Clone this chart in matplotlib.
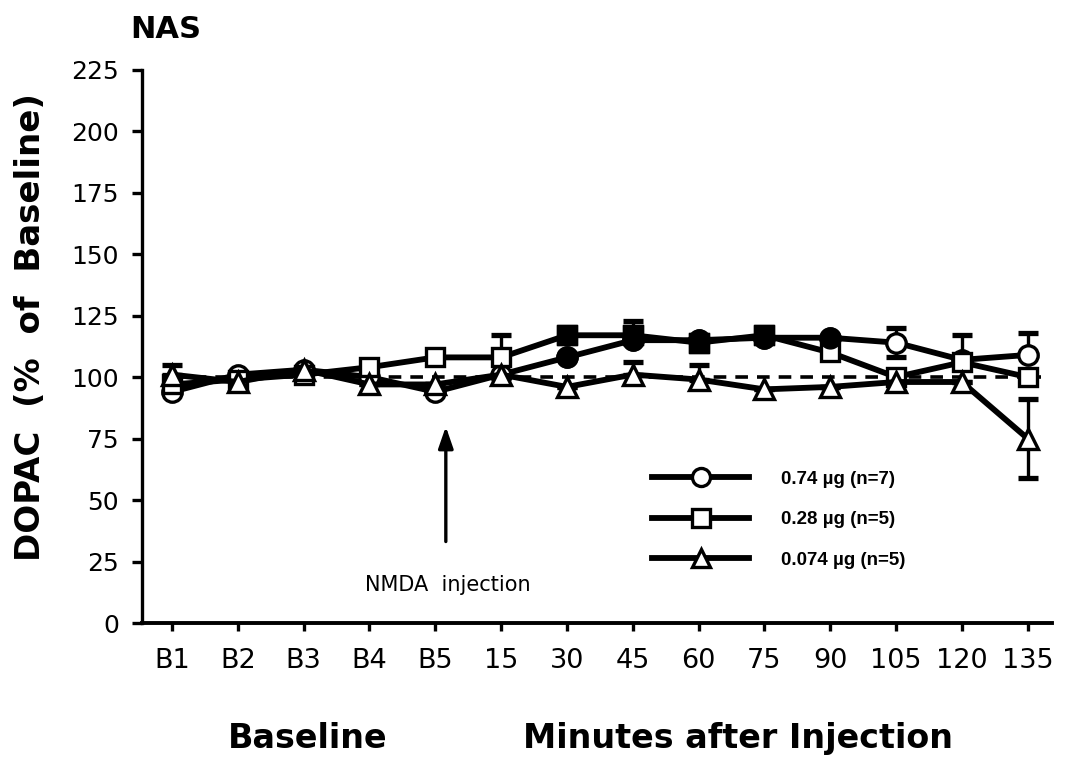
import numpy as np
import matplotlib
matplotlib.use("Agg")
import matplotlib.pyplot as plt
from matplotlib.lines import Line2D

plt.rcParams['font.family'] = ['DejaVu Sans']

# sampling points: five baseline samples, then minutes after NMDA injection
time_labels = ["B1", "B2", "B3", "B4", "B5", "15", "30", "45", "60", "75", "90", "105", "120", "135"]

# DOPAC in nucleus accumbens, % of baseline, per dose
dopac_074 = [94, 101, 103, 100, 94, 101, 108, 115, 115, 116, 116, 114, 107, 109]
dopac_028 = [97, 99, 101, 104, 108, 108, 117, 117, 114, 117, 110, 100, 106, 100]
dopac_0074 = [101, 98, 103, 97, 97, 101, 96, 101, 99, 95, 96, 98, 98, 75]

# SEM bars as printed (lower, upper); most lower halves are hidden under the lines
sem_074_lo = [0, 0, 0, 0, 0, 0, 0, 0, 0, 0, 0, 6, 0, 0]
sem_074_hi = [0, 0, 0, 0, 0, 0, 0, 8, 0, 0, 0, 6, 10, 9]
sem_028_lo = [0, 0, 0, 0, 0, 0, 0, 0, 0, 0, 0, 0, 0, 0]
sem_028_hi = [0, 0, 0, 0, 0, 9, 0, 0, 0, 0, 0, 0, 0, 0]
sem_0074_lo = [0, 0, 0, 0, 0, 0, 0, 0, 0, 0, 0, 0, 0, 16]
sem_0074_hi = [4, 0, 0, 0, 0, 0, 0, 5, 6, 0, 0, 0, 0, 16]

dose_labels = ["0.74 µg (n=7)", "0.28 µg (n=5)", "0.074 µg (n=5)"]

x = np.arange(len(time_labels))

fig = plt.figure(figsize=(10.66, 7.57), dpi=100)
ax = fig.add_axes([0.1332, 0.177, 0.8537, 0.731])

lw = 4.2
ms = 14
mew = 2.4

# baseline reference
ax.plot([x[0], x[-1] + 0.2], [100, 100], color="black", lw=2.6, ls=(0, (3.5, 2.5)), zorder=1)

series = [
    (dopac_074, [sem_074_lo, sem_074_hi], "o"),
    (dopac_028, [sem_028_lo, sem_028_hi], "s"),
    (dopac_0074, [sem_0074_lo, sem_0074_hi], "^"),
]
for vals, err, mk in series:
    ax.errorbar(x, vals, yerr=err, fmt="none", ecolor="black", elinewidth=2.4,
                capsize=7, capthick=3.8, zorder=2)
for vals, err, mk in series:
    ax.plot(x, vals, color="black", lw=lw, marker=mk, ms=ms if mk != "s" else ms - 1,
            mfc="white", mec="black", mew=mew, zorder=3)

# overlapping points in the 30-90 min window print as solid blobs
mid = slice(6, 11)
ax.plot(x[mid], np.array(dopac_074)[mid], ls="none", marker="o", ms=ms + 1,
        mfc="black", mec="black", zorder=4)
ax.plot(x[6:10], np.array(dopac_028)[6:10], ls="none", marker="s", ms=ms,
        mfc="black", mec="black", zorder=4)

ax.set_xlim(-0.456, 13.37)
ax.set_ylim(0, 225)
ax.set_yticks(np.arange(0, 226, 25))
ax.set_xticks(x)
ax.set_xticklabels(time_labels)
ax.spines["top"].set_visible(False)
ax.spines["right"].set_visible(False)
ax.spines["left"].set_linewidth(2.4)
ax.spines["bottom"].set_linewidth(2.8)
ax.tick_params(axis="y", direction="out", length=7.5, width=2.4, pad=9, labelsize=18)
ax.tick_params(axis="x", direction="out", length=6, width=2.4, pad=12, labelsize=19.5)

ax.set_ylabel("DOPAC  (%  of  Baseline)", fontsize=24.5, fontweight="bold")
ax.yaxis.set_label_coords(-0.104, 0.535)

# injection marker
ax.annotate("", xy=(4.16, 81), xytext=(4.16, 32),
            arrowprops=dict(arrowstyle="-|>,head_length=1.3,head_width=0.45",
                            color="black", lw=2.4))
ax.text(4.19, 15.4, "NMDA  injection", ha="center", va="center", fontsize=15)

handles = [Line2D([], [], color="black", lw=lw, marker=m, ms=ms - 1, mfc="white",
                  mec="black", mew=mew) for m in ["o", "s", "^"]]
ax.legend(handles, dose_labels, loc="upper left", bbox_to_anchor=(0.55, 0.292),
          frameon=False, handlelength=5.2, handletextpad=1.7,
          labelspacing=1.25, borderpad=0, numpoints=1,
          prop={"family": "Liberation Sans", "weight": "bold", "size": 13.5})

fig.text(130 / 1066, 1 - 38 / 757, "NAS", fontsize=22, fontweight="bold")
fig.text(308 / 1066, 1 - 748 / 757, "Baseline", fontsize=24, fontweight="bold", ha="center")
fig.text(738 / 1066, 1 - 748 / 757, "Minutes after Injection", fontsize=24,
         fontweight="bold", ha="center")

fig.savefig("out.png", dpi=100)
